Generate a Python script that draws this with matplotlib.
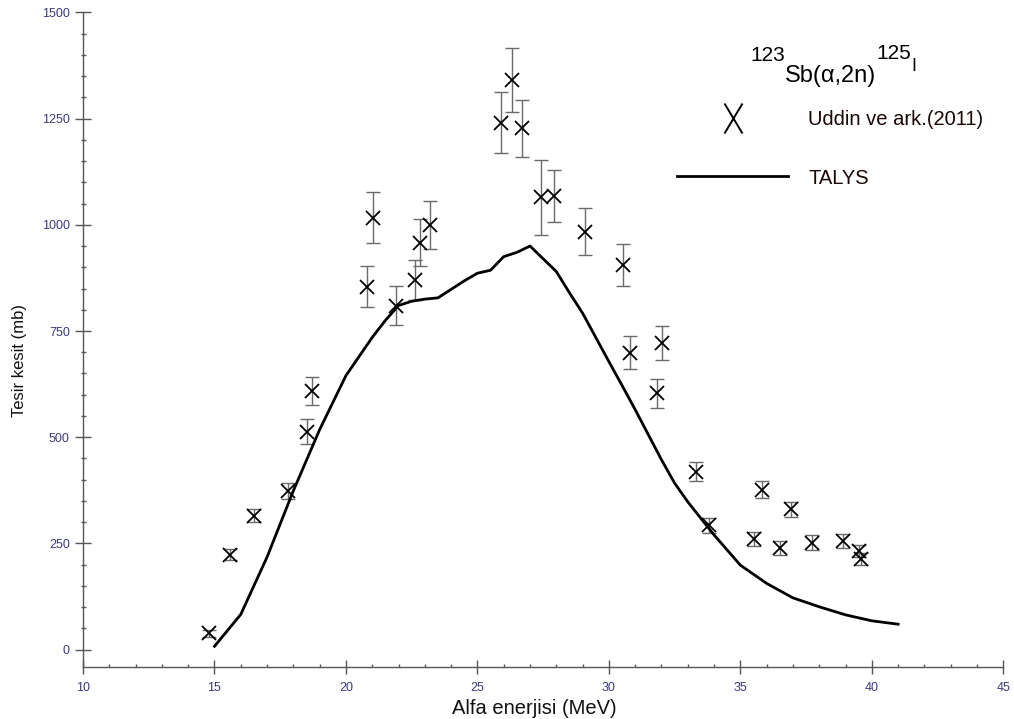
import matplotlib
matplotlib.use("Agg")
import matplotlib.pyplot as plt
from matplotlib.lines import Line2D
from matplotlib.path import Path
import numpy as np

# Experimental data: Uddin ve ark. (2011)
exp_energy = [14.79, 15.6, 16.5, 17.79, 18.5, 18.7, 20.8, 21.01, 21.91, 22.61, 22.82, 23.2,
              25.9, 26.31, 26.69, 27.43, 27.9, 29.1, 30.52, 30.81, 31.83, 32.02,
              33.31, 33.79, 35.51, 35.82, 36.52, 36.93, 37.72, 38.9, 39.5, 39.6]
exp_cs = [39, 224, 315, 373, 513, 609, 854, 1017, 809, 870, 958, 999,
          1240, 1341, 1227, 1065, 1068, 984, 905, 699, 603, 721,
          419, 293, 260, 377, 239, 330, 252, 256, 233, 213]
exp_err = [8, 12, 15, 19, 29, 33, 48, 61, 46, 47, 55, 56,
           72, 75, 67, 88, 61, 56, 50, 39, 34, 40,
           23, 18, 17, 21, 17, 18, 17, 17, 14, 14]

# TALYS calculation
talys_energy = [15, 16, 17, 18, 19, 20, 20.5, 21, 21.5, 22, 22.5, 23, 23.5, 24, 24.5, 25,
                25.5, 26, 26.5, 27, 27.5, 28, 28.5, 29, 29.5, 30, 30.5, 31, 31.5, 32,
                32.5, 33, 34, 35, 36, 37, 38, 39, 40, 41]
talys_cs = [8, 83, 218, 374, 518, 645, 690, 735, 775, 810, 820, 825, 828, 848, 868, 886,
            893, 925, 935, 950, 920, 890, 840, 792, 735, 678, 622, 565, 506, 447,
            392, 348, 270, 199, 156, 122, 101, 82, 68, 60]

x_ticks = [10, 15, 20, 25, 30, 35, 40, 45]
y_ticks = [0, 250, 500, 750, 1000, 1250, 1500]
legend_labels = ['Uddin ve ark.(2011)', 'TALYS']

plt.rcParams['font.family'] = ['Liberation Sans', 'DejaVu Sans']

fig = plt.figure(figsize=(10.14, 7.19), dpi=100)
ax = fig.add_axes([83/1014, 1 - 666.7/719, (1003.3-83)/1014, (666.7-12.3)/719])

ax.errorbar(exp_energy, exp_cs, yerr=exp_err, fmt='none', ecolor='#6a6a6a',
            elinewidth=1.0, capsize=5.2, capthick=1.0, zorder=2)
ax.plot(exp_energy, exp_cs, linestyle='none', marker='x', markersize=10.5,
        markeredgewidth=1.3, color='black', zorder=3)
ax.plot(talys_energy, talys_cs, color='black', linewidth=2.0, zorder=4)

ax.set_xlim(10, 45)
ax.set_ylim(-40, 1500)
ax.set_xticks(x_ticks)
ax.set_yticks(y_ticks)
ax.set_xticks(np.arange(10, 46, 1), minor=True)
ax.set_yticks(np.arange(0, 1501, 50), minor=True)

for s in ['top', 'right']:
    ax.spines[s].set_visible(False)
for s in ['left', 'bottom']:
    ax.spines[s].set_color('#555555')
    ax.spines[s].set_linewidth(1.0)

ax.tick_params(axis='y', which='major', direction='inout', length=11, width=1,
               color='#555555', labelcolor='#3a3a7a', labelsize=9, pad=4)
ax.tick_params(axis='y', which='minor', direction='inout', length=3.6, width=1,
               color='#555555')
ax.tick_params(axis='x', which='major', direction='inout', length=9.5, width=1,
               color='#555555', labelcolor='#3a3a7a', labelsize=9, pad=6)
ax.tick_params(axis='x', which='minor', direction='in', length=2.5, width=1,
               color='#555555')

ax.set_xlabel('Alfa enerjisi (MeV)', fontsize=14.5, color='#111111')
ax.xaxis.set_label_coords(0.49, -0.05)
ax.set_ylabel('Tesir kesit (mb)', fontsize=12, color='#111111')
ax.yaxis.set_label_coords(-0.061, 0.468)

# Legend
xmark = Path([(-0.6, -1), (0.6, 1), (-0.6, 1), (0.6, -1)],
             [Path.MOVETO, Path.LINETO, Path.MOVETO, Path.LINETO])
h1 = Line2D([], [], linestyle='none', marker=xmark, markersize=21.6,
            markeredgewidth=1.4, color='black')
h2 = Line2D([], [], color='black', linewidth=2.0)
leg = ax.legend([h1, h2], legend_labels,
                loc='upper left', bbox_to_anchor=(0.626, 0.878),
                frameon=False, handlelength=5.5, handletextpad=1.0, labelspacing=1.95,
                borderpad=0.4, fontsize=14.5)
for t in leg.get_texts():
    t.set_color('#1a0505')

# Legend title: 123Sb(α,2n)125I
t1 = ax.text(0.725, 0.926, '123', transform=ax.transAxes, fontsize=15,
             va='baseline', ha='left')
t2 = ax.annotate('Sb(α,2n)', xy=(1, 0), xycoords=t1, xytext=(0.2, -12.6),
                 textcoords='offset points', fontsize=17, va='baseline', ha='left')
t3 = ax.annotate('125', xy=(1, 0), xycoords=t2, xytext=(0.0, 20.0),
                 textcoords='offset points', fontsize=15, va='baseline', ha='left')
t4 = ax.annotate('I', xy=(1, 0), xycoords=t3, xytext=(0.3, -5.4),
                 textcoords='offset points', fontsize=13, va='baseline', ha='left')

fig.savefig('out.png', dpi=100)
